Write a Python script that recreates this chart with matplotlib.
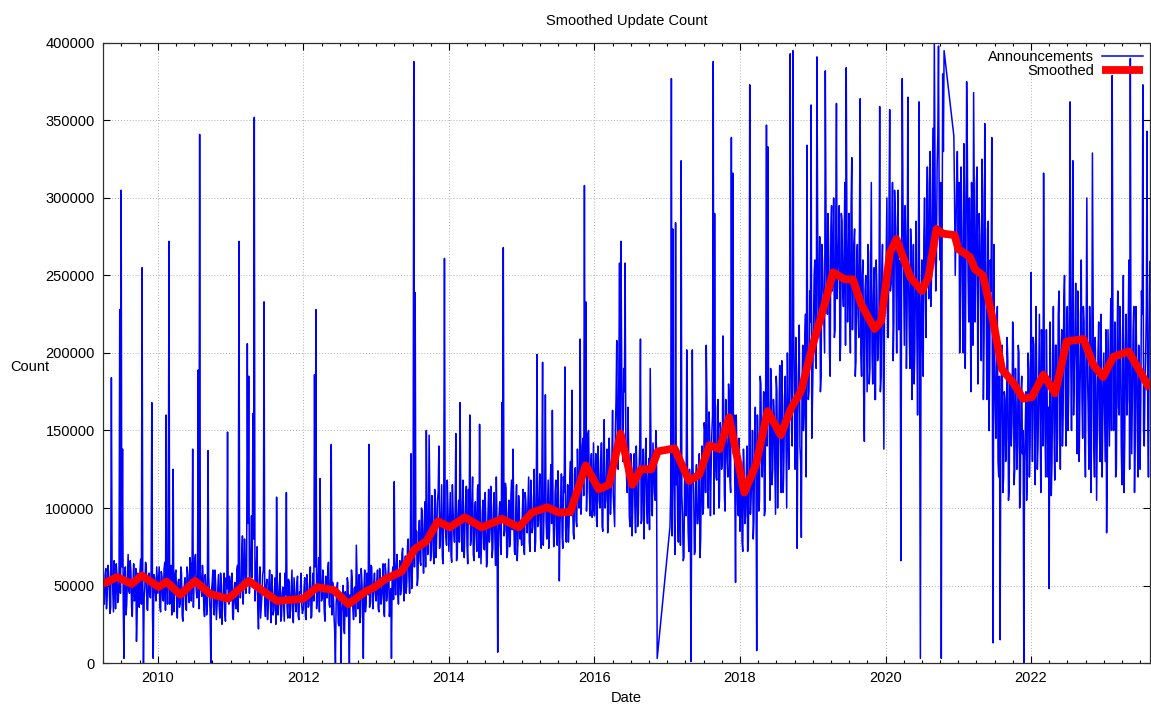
import numpy as np
import matplotlib.pyplot as plt
from matplotlib.ticker import MultipleLocator

plt.rcParams['font.family'] = ['Liberation Sans', 'DejaVu Sans']

# Weekly announcement counts (thousands). None marks weeks with no data.
ann_2009 = [52, 38, 61, 44, 58, 32, 184, 47, 66, 35, 57, 41, 228, 305, 138, 3, 62, 38, 70, 45,
            59, 30, 64, 42, 14, 58, 36, 67, 255, 0, 49, 63, 34, 58, 42, 168, 3, 55, 40]
ann_2010 = [45, 62, 33, 56, 40, 65, 160, 38, 272, 52, 31, 125, 47, 60, 29, 54, 38, 58, 27, 50,
            36, 62, 44, 68, 40, 138, 55, 70, 42, 189, 341, 48, 63, 35, 57, 31, 137, 44, 0, 52,
            36, 60, 28, 49, 37, 58, 25, 46, 33, 55, 149, 38]
ann_2011 = [40, 58, 28, 52, 35, 63, 272, 42, 70, 38, 80, 45, 206, 185, 60, 95, 161, 352, 48, 75,
            22, 62, 36, 57, 233, 30, 54, 37, 60, 26, 48, 34, 55, 107, 31, 50, 27, 45, 38, 58,
            110, 29, 52, 35, 60, 26, 47, 33, 56, 28, 45, 37]
ann_2012 = [35, 55, 28, 48, 37, 62, 30, 58, 186, 228, 45, 68, 119, 40, 60, 33, 56, 42, 65, 36,
            141, 52, 30, 0, 48, 26, 44, 0, 40, 22, 46, 30, 52, 0, 38, 55, 28, 49, 76, 35,
            57, 30, 52, 3, 60, 38, 55, 141, 42, 62, 35, 58]
ann_2013 = [40, 60, 33, 55, 42, 64, 30, 58, 45, 67, 36, 3, 62, 117, 44, 70, 38, 66, 48, 74,
            40, 69, 52, 80, 45, 135, 60, 388, 239, 85, 55, 92, 63, 98, 58, 104, 150, 70, 147, 66,
            108, 72, 112, 68, 105, 140, 78, 115, 64, 261, 82, 118]
ann_2014 = [72, 110, 65, 98, 78, 148, 70, 105, 168, 82, 118, 68, 100, 75, 112, 160, 80, 120, 66, 104,
            72, 115, 154, 64, 98, 74, 110, 62, 95, 78, 114, 68, 102, 80, 120, 7, 96, 76, 168, 268,
            85, 112, 70, 105, 78, 118, 138, 72, 100, 66, 108, 80]
ann_2015 = [76, 112, 70, 104, 84, 120, 72, 108, 88, 125, 78, 199, 90, 122, 74, 194, 95, 173, 80, 118,
            86, 128, 163, 75, 110, 88, 124, 53, 102, 82, 120, 191, 78, 115, 90, 130, 176, 84, 122, 92,
            138, 100, 209, 110, 145, 308, 233, 118, 150, 95, 135, 100]
ann_2016 = [95, 135, 88, 128, 100, 142, 85, 157, 105, 138, 92, 130, 110, 163, 98, 150, 208, 125, 258, 272,
            140, 190, 258, 120, 165, 95, 135, 82, 128, 100, 140, 88, 125, 209, 92, 138, 105, 145, 90, 132,
            190, 98, 142, 110, 150, 3, None, None, None, None, None, None]
ann_2017 = [None, None, 88, 377, 280, 105, 284, 130, 78, 120, 324, 95, 68, 118, 202, 85, 125, 1, 202, 110,
            72, 128, 90, 135, 80, 140, 100, 150, 205, 110, 162, 95, 148, 388, 290, 120, 165, 100, 155, 125,
            211, 108, 170, 130, 180, 118, 339, 316, 160, 52, 135, 95]
ann_2018 = [85, 130, 72, 120, 95, 140, 78, 373, 110, 150, 92, 165, 8, 140, 105, 180, 120, 175, 98, 347,
            333, 150, 190, 115, 170, 130, 185, 100, 160, 133, 195, 110, 172, 140, 200, 125, 393, 150, 395, 175,
            210, 74, 185, 140, 81, 205, 160, 225, 334, 170, 240, 360]
ann_2019 = [180, 250, 195, 391, 210, 275, 185, 260, 220, 382, 235, 290, 200, 280, 240, 300, 215, 361, 255, 295,
            205, 285, 230, 310, 384, 220, 290, 200, 326, 245, 280, 195, 270, 210, 364, 185, 260, 143, 250, 175,
            265, 190, 310, 180, 255, 170, 240, 200, 359, 185, 270, 138]
ann_2020 = [230, 300, 210, 357, 245, 310, 220, 290, 200, 305, 235, 66, 377, 250, 295, 190, 365, 215, 280, 170,
            270, 200, 285, 160, 362, 3, 260, 185, 300, 210, 320, 235, 330, 250, 345, 400, 240, 320, 398, 260,
            3, 380, 395, None, None, None, None, None, None, 340, 250, 310]
ann_2021 = [270, 200, 320, 230, 335, 190, 375, 250, 300, 175, 285, 368, 220, 310, 180, 290, 240, 325, 170, 348,
            230, 280, 150, 260, 339, 13, 200, 145, 230, 120, 15, 195, 110, 175, 130, 210, 105, 185, 140, 220,
            115, 190, 125, 205, 100, 175, 135, 0, 150, 105, 200, 120]
ann_2022 = [252, 130, 205, 115, 190, 140, 225, 110, 200, 316, 150, 215, 120, 48, 195, 130, 230, 118, 205, 145,
            240, 125, 215, 160, 250, 140, 230, 175, 362, 150, 324, 190, 245, 135, 225, 170, 260, 145, 220, 120,
            300, 160, 230, 110, 329, 140, 210, 105, 200, 150, 225, 120]
ann_2023 = [200, 130, 84, 215, 140, 235, 379, 150, 220, 125, 240, 160, 210, 115, 250, 145, 225, 170, 260, 390,
            135, 215, 110, 230, 150, 205, 125, 240, 373, 140, 200, 343, 120, 259]

# Mid-week counts (thousands), half a week after each weekly value above
mid_2009 = [41, 57, 35, 63, 48, 36, 60, 33, 52, 64, 39, 55, 45, 62, 37, 58, 31, 54, 47, 66,
            36, 52, 40, 61, 33, 49, 59, 38, 56, 42, 65, 35, 51, 44, 60, 32, 57, 46, 62]
mid_2010 = [54, 36, 59, 42, 61, 34, 50, 57, 38, 63, 45, 33, 58, 40, 52, 36, 62, 30, 47, 55,
            34, 57, 39, 64, 51, 36, 66, 48, 58, 35, 60, 43, 55, 30, 49, 37, 56, 33, 46, 60,
            31, 50, 38, 57, 29, 52, 40, 58, 27, 48, 42, 56]
mid_2011 = [52, 30, 47, 38, 60, 33, 55, 48, 82, 52, 65, 58, 90, 45, 72, 55, 80, 40, 63, 35,
            50, 29, 44, 60, 38, 49, 28, 52, 40, 57, 31, 46, 25, 53, 39, 58, 30, 49, 27, 44,
            36, 54, 29, 48, 33, 55, 38, 51, 30, 46, 58, 32]
mid_2012 = [48, 30, 57, 36, 52, 29, 49, 40, 62, 35, 55, 33, 58, 42, 50, 27, 47, 60, 38, 54,
            31, 45, 20, 38, 52, 24, 41, 33, 50, 19, 42, 55, 28, 44, 60, 35, 48, 30, 57, 42,
            26, 61, 39, 49, 33, 58, 44, 36, 63, 40, 52, 46]
mid_2013 = [52, 35, 61, 38, 50, 33, 64, 40, 56, 30, 48, 57, 41, 53, 62, 47,
            58, 44, 70, 52, 61, 45, 75, 56, 68, 48, 78, 62, 72, 50, 82,
            66, 100, 75, 88, 62, 95, 80, 108, 70, 92, 64, 102, 85, 110, 74, 96, 68, 105, 90, 76, 100]
mid_2014 = [92, 70, 115, 85, 100, 66, 95, 78, 108, 72, 102, 88, 114, 64, 90, 76, 106, 70, 98, 84,
            112, 68, 92, 80, 105, 73, 90, 66, 112, 86, 97, 74, 110, 63, 88, 80, 104, 70, 95, 82,
            116, 68, 94, 75, 109, 86, 92, 70, 115, 78, 99, 88]
mid_2015 = [98, 74, 110, 90, 102, 78, 118, 84, 100, 72, 112, 88, 104, 80, 120, 76, 108, 92, 99, 74,
            115, 90, 102, 82, 118, 76, 105, 90, 122, 74, 110, 86, 100, 78, 118, 95, 106, 80, 126, 88,
            115, 125, 96, 140, 108, 130, 98, 148, 112, 126, 94, 142]
mid_2016 = [118, 92, 140, 105, 125, 88, 138, 100, 120, 84, 145, 96, 130, 108, 88,
            170, 140, 185, 150, 200, 130, 175, 145, 110,
            140, 88, 125, 102, 135, 84, 118, 96, 140, 90, 128, 80, 135, 100, 120, 86, 142, 95, 125, 105, 138,
            None, None, None, None, None, None, None]
mid_2017 = [None, None, 110, 82, 125, 70, 115, 92, 128, 76, 108, 66, 120, 95, 130, 72, 112, 84, 126, 70,
            118, 90, 104, 68, 122, 96, 155, 110, 168, 100, 145, 125, 160, 96, 140, 118, 170, 105, 150, 130,
            165, 98, 142, 120, 172, 110, 150, 135, 112, 160, 102, 145]
mid_2018 = [105, 78, 138, 90, 120, 72, 130, 96, 115, 80, 142,
            120, 160, 98, 185, 130, 150, 95, 190, 140, 170, 105, 180, 125, 160, 96, 175, 140, 192, 110,
            165, 130, 185, 100, 155, 175,
            200, 140, 215, 125, 190, 160, 218, 130, 180, 150, 210, 120, 195, 175, 220, 145]
mid_2019 = [215, 260, 190, 285, 230, 175, 270, 240, 200, 290, 225, 260, 185, 295, 250, 210, 280, 235, 270, 195,
            290, 240, 265, 205, 280, 250, 230, 295, 215, 270, 185, 260, 225, 280, 200, 250, 175, 240, 210, 270,
            180, 255, 200, 235, 170, 260, 195, 225, 175, 250, 205, 240]
mid_2020 = [265, 210, 290, 240, 270, 195, 305, 250, 280, 215, 260, 240, 300, 205, 275, 230, 250, 190, 265, 225,
            180, 255, 210, 240, 170, 230, 205, 275, 245, 290, 260, 310, 230, 300, 270, 320, 260, 340, 290, 310,
            250, 330, None, None, None, None, None, None, None, 300, 280, 330]
mid_2021 = [310, 240, 280, 200, 300, 260, 330, 220, 265, 310, 205, 290, 250, 320, 230, 275, 195, 300,
            210, 260, 170, 285, 190, 240, 160, 270,
            165, 200, 130, 185, 150, 205, 120, 170, 145, 195, 112, 180, 155, 208, 125, 165, 140, 200, 110, 185,
            150, 130, 175, 120, 190, 140]
mid_2022 = [175, 210, 150, 230, 125, 180, 160, 215, 140, 190, 120, 175, 165, 220, 108, 185, 150, 205, 130, 225,
            175, 200, 140, 235, 185, 210, 150, 240, 195, 225, 160, 210, 180, 240, 130, 200, 170, 230, 145, 215,
            185, 125, 205, 165, 230, 120, 180, 150, 220, 130, 195, 165]
mid_2023 = [165, 215, 130, 180, 200, 150, 225, 175, 120, 205, 165, 230, 140, 190, 110, 205, 160, 220, 125, 185,
            175, 230, 145, 200, 120, 185, 170, 225, 150, 180, 230, 160, 210]

# (first week as decimal year, weekly list, mid-week list)
ann_years = [(2009.247, ann_2009, mid_2009), (2010, ann_2010, mid_2010), (2011, ann_2011, mid_2011),
             (2012, ann_2012, mid_2012), (2013, ann_2013, mid_2013), (2014, ann_2014, mid_2014),
             (2015, ann_2015, mid_2015), (2016, ann_2016, mid_2016), (2017, ann_2017, mid_2017),
             (2018, ann_2018, mid_2018), (2019, ann_2019, mid_2019), (2020, ann_2020, mid_2020),
             (2021, ann_2021, mid_2021), (2022, ann_2022, mid_2022), (2023, ann_2023, mid_2023)]

# Smoothed series (decimal year, thousands)
smooth_year = [2009.247, 2009.44, 2009.64, 2009.78, 2010.01, 2010.12, 2010.31, 2010.51, 2010.72, 2010.97,
               2011.25, 2011.64, 2012.00, 2012.19, 2012.42, 2012.62, 2012.85, 2012.98, 2013.12, 2013.35,
               2013.53, 2013.69, 2013.85, 2014.01, 2014.22, 2014.45, 2014.73, 2014.96, 2015.14, 2015.35,
               2015.51, 2015.67, 2015.88, 2016.06, 2016.20, 2016.36, 2016.52, 2016.64, 2016.78, 2016.87,
               2017.10, 2017.30, 2017.44, 2017.58, 2017.72, 2017.85, 2018.06, 2018.22, 2018.38, 2018.56,
               2018.70, 2018.84, 2019.00, 2019.16, 2019.28, 2019.44, 2019.55, 2019.67, 2019.85, 2019.94,
               2020.06, 2020.15, 2020.34, 2020.50, 2020.59, 2020.70, 2020.79, 2020.95, 2021.00, 2021.16,
               2021.23, 2021.34, 2021.48, 2021.60, 2021.76, 2021.89, 2022.01, 2022.17, 2022.33, 2022.49,
               2022.72, 2022.86, 2022.99, 2023.13, 2023.34, 2023.48, 2023.63]
smooth_k = [51, 55.5, 51, 56.5, 49, 52.5, 44, 53, 44.5, 41.5,
            53, 40, 41.5, 49, 47, 38, 46, 49, 54, 59,
            73.5, 78.5, 91.5, 87.5, 94, 87.5, 93, 87.5, 97, 100.5,
            97, 97.5, 127.5, 112, 115, 148, 115, 125, 125, 136.5,
            138.5, 117.5, 121.5, 140.5, 138, 158.5, 110, 128, 162.5, 147,
            164, 175.5, 205, 231, 252, 247.5, 247.5, 231, 215.5, 220.5,
            264.5, 273.5, 249, 240, 249, 280, 277, 276, 267, 262,
            254, 250, 220.5, 189.5, 180.5, 170.5, 171.5, 186, 174, 207.5,
            209, 192, 184.5, 197.5, 201, 189.5, 177]

# half-weekly positions in decimal years
week = 7 / 365.25
xs, ys = [], []
for start, weekly, midweek in ann_years:
    for i, v in enumerate(weekly):
        xs.append(start + i * week)
        ys.append(np.nan if v is None else v * 1000.0)
    for i, v in enumerate(midweek):
        xs.append(start + (i + 0.5) * week)
        ys.append(np.nan if v is None else v * 1000.0)
xs = np.array(xs)
ys = np.array(ys)
order = np.argsort(xs)
xs, ys = xs[order], ys[order]
ok = np.isfinite(ys)

fig = plt.figure(figsize=(11.51, 7.04), dpi=100)
ax = fig.add_axes([0.0895, 0.0582, 0.9095, 0.8808])

ax.plot(xs[ok], ys[ok], color='#0000ff', lw=1.1, label='Announcements')
ax.plot(smooth_year, np.array(smooth_k) * 1000.0, color='#ff0000', lw=5.6,
        solid_joinstyle='round', solid_capstyle='butt', label='Smoothed')

ax.set_xlim(xs[ok][0], xs[ok][-1])
ax.set_ylim(0, 400000)
ax.xaxis.set_major_locator(MultipleLocator(2))
ax.xaxis.set_minor_locator(MultipleLocator(0.25))
ax.yaxis.set_major_locator(MultipleLocator(50000))
ax.xaxis.set_major_formatter(plt.FuncFormatter(lambda v, p: '%d' % round(v)))
ax.ticklabel_format(style='plain', axis='y')

ax.tick_params(which='both', direction='in', top=True, right=True, labelsize=10.5, colors='black')
ax.tick_params(which='major', length=5, width=0.8, pad=6)
ax.tick_params(which='minor', length=2.5, width=0.8)
for s in ax.spines.values():
    s.set_linewidth(0.9)
    s.set_color('#303030')

ax.grid(True, which='major', color='#b0b0b0', linestyle=(0, (1, 2)), linewidth=0.7)

ax.set_title('Smoothed Update Count', fontsize=10.5, pad=13)
ax.set_xlabel('Date', fontsize=10.5)
ax.set_ylabel('Count', fontsize=10.5, rotation=0, va='center', ha='center')
ax.xaxis.set_label_coords(0.5, -0.045)
ax.yaxis.set_label_coords(-0.07, 0.477)

leg = ax.legend(loc='upper right', frameon=False, markerfirst=False, fontsize=10.5,
                handlelength=2.8, labelspacing=0.0, borderaxespad=0.1, handletextpad=0.5)

fig.savefig('out.png', dpi=100)
